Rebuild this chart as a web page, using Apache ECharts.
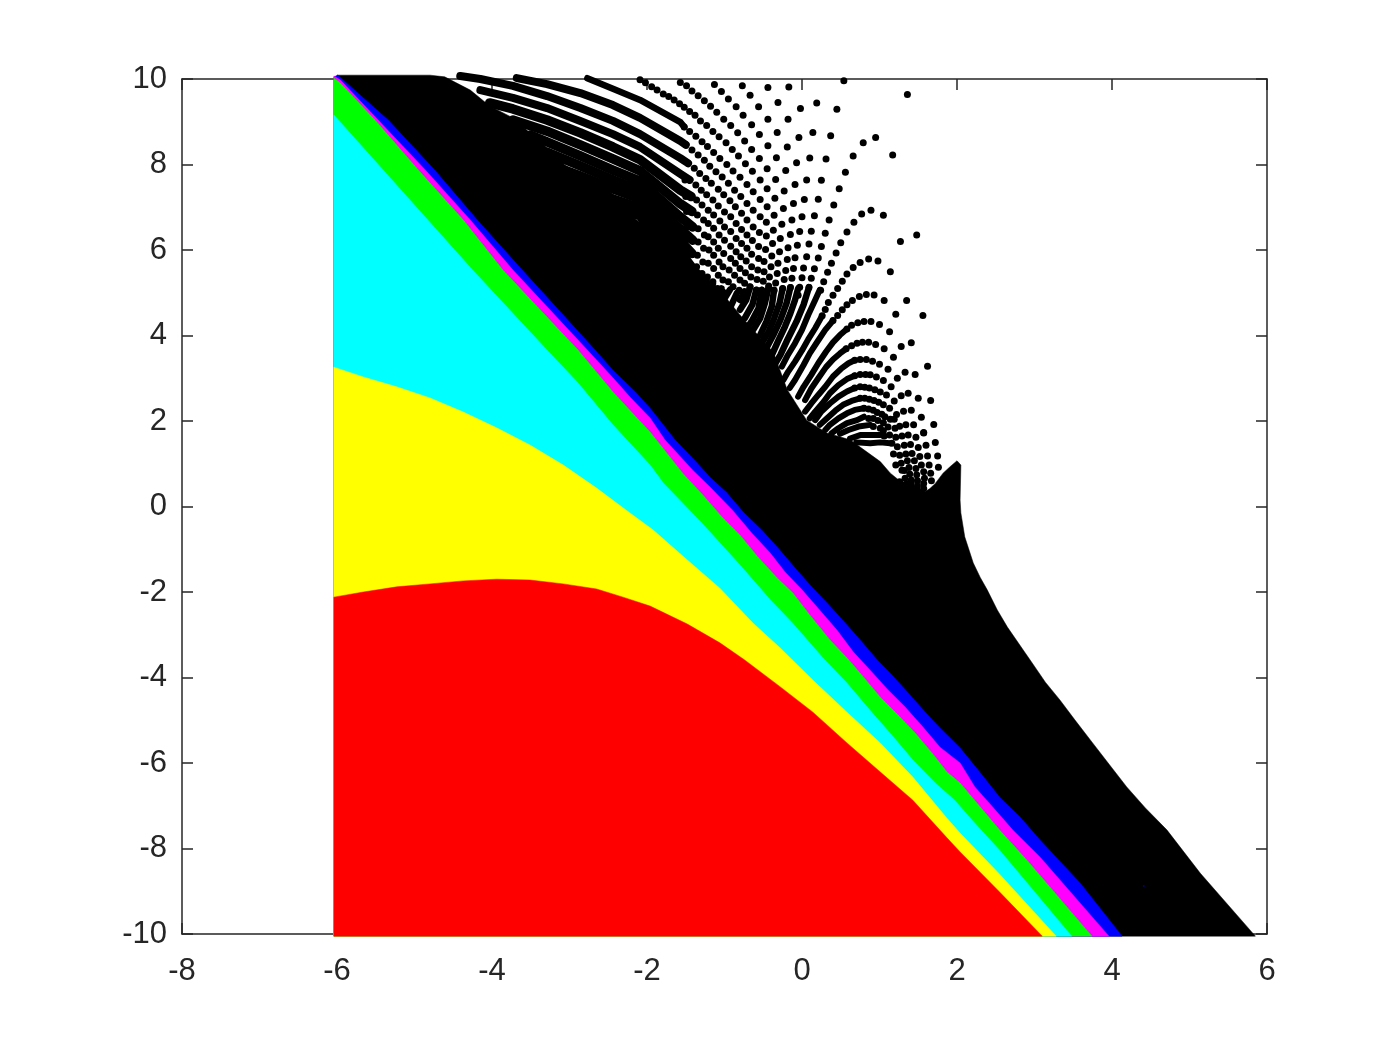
<!DOCTYPE html>
<html><head><meta charset="utf-8">
<script src="https://cdn.jsdelivr.net/npm/echarts@6/dist/echarts.min.js"></script>
<style>html,body{margin:0;padding:0;background:#fff}#c{width:1400px;height:1050px}</style>
</head><body><div id="c"></div>
<script>
const xTicks=[-8,-6,-4,-2,0,2,4,6];
const yTicks=[-10,-8,-6,-4,-2,0,2,4,6,8,10];

const blackEdge=[[-6,10.09],[-4.8,10.09],[-4.61,10.05],[-4.28,9.74],[-4.03,9.37],[-3.73,9.09],[-3.51,8.74],[-3.29,8.39],[-3.06,7.99],[-2.74,7.59],[-2.41,7.05],[-2.09,6.65],[-1.83,6.35],[-1.57,5.88],[-1.32,5.53],[-1.06,5.06],[-0.8,4.48],[-0.37,3.61],[-0.19,2.73],[0.06,2.02],[0.32,1.72],[0.62,1.56],[1.01,1.05],[1.14,0.78],[1.26,0.6],[1.44,0.5],[1.59,0.35],[1.65,0.42],[1.72,0.54],[1.82,0.78],[1.91,0.93],[2,1.07],[2.05,0.97],[2.04,0.15],[2.05,-0.15],[2.1,-0.71],[2.21,-1.32],[2.3,-1.66],[2.39,-1.95],[2.52,-2.42],[2.65,-2.82],[2.81,-3.24],[2.97,-3.66],[3.14,-4.11],[3.33,-4.53],[3.52,-4.99],[3.72,-5.46],[3.95,-6],[4.19,-6.56],[4.43,-7.05],[4.71,-7.57],[5.14,-8.58],[5.85,-10.05]];
const blueEdge=[[-6.04,10.05],[-5.99,10.09],[-5.34,9.04],[-4.74,7.87],[-4.19,6.7],[-3.61,5.53],[-2.67,3.66],[-2.44,3.19],[-2.15,2.68],[-1.96,2.3],[-1.64,1.56],[-1.41,1.13],[-1.19,0.69],[-0.97,0.32],[-0.76,-0.13],[-0.52,-0.55],[-0.31,-0.97],[-0.09,-1.44],[0.1,-1.83],[0.32,-2.25],[0.52,-2.65],[0.75,-3.12],[0.97,-3.59],[1.16,-3.94],[1.37,-4.36],[1.59,-4.81],[1.78,-5.18],[2.04,-5.65],[2.3,-6.23],[2.55,-6.8],[2.81,-7.26],[3.07,-7.8],[3.59,-8.81],[4.13,-10.05]];
const magentaEdge=[[-6.04,10.07],[-5.96,9.98],[-5.47,9.04],[-4.86,7.87],[-4.28,6.7],[-3.73,5.53],[-2.77,3.66],[-2.44,3.01],[-2.22,2.56],[-1.96,2.07],[-1.77,1.56],[-1.41,0.85],[-1.19,0.46],[-0.9,-0.08],[-0.65,-0.62],[-0.41,-1.09],[-0.22,-1.53],[0,-1.95],[0.26,-2.49],[0.45,-2.89],[0.66,-3.4],[0.9,-3.87],[1.11,-4.29],[1.33,-4.69],[1.56,-5.16],[1.78,-5.63],[2.04,-6],[2.23,-6.56],[2.46,-7.03],[2.72,-7.57],[3.07,-8.2],[3.96,-10.05]];
const greenEdge=[[-6.04,10.02],[-5.96,9.91],[-5.51,9.04],[-4.95,7.87],[-4.37,6.7],[-3.86,5.53],[-2.89,3.66],[-2.44,2.68],[-1.96,1.74],[-1.54,0.78],[-1.28,0.27],[-1.03,-0.25],[-0.8,-0.67],[-0.57,-1.18],[-0.32,-1.67],[-0.12,-2.02],[0.1,-2.54],[0.36,-3.12],[0.58,-3.54],[0.77,-3.94],[1.01,-4.46],[1.24,-4.88],[1.46,-5.3],[1.68,-5.77],[1.87,-6.21],[2.04,-6.47],[2.3,-7.03],[2.55,-7.57],[2.9,-8.27],[3.74,-10.05]];
const cyanEdge=[[-6.04,9.16],[-4.25,5.53],[-3.29,3.66],[-2.9,2.91],[-2.44,1.91],[-1.96,0.97],[-1.79,0.55],[-1.29,-0.39],[-0.8,-1.37],[-0.41,-2.18],[-0.12,-2.73],[0.26,-3.52],[0.58,-4.13],[0.85,-4.71],[1.16,-5.35],[1.43,-5.93],[1.72,-6.47],[1.97,-6.87],[2.19,-7.33],[2.55,-8.04],[3.48,-10.05]];
const yellowEdge=[[-6.04,3.26],[-5.66,3.03],[-5.23,2.8],[-4.8,2.54],[-4.37,2.21],[-3.94,1.84],[-3.51,1.44],[-3.08,0.97],[-2.65,0.43],[-2.22,-0.15],[-1.92,-0.55],[-1.48,-1.25],[-1.06,-1.91],[-0.63,-2.73],[-0.28,-3.31],[0.14,-4.06],[0.58,-4.81],[1.01,-5.53],[1.43,-6.33],[1.87,-7.29],[2.04,-7.64],[2.55,-8.6],[3.28,-10.05]];
const redEdge=[[-6.04,-2.12],[-5.66,-2],[-5.23,-1.88],[-4.8,-1.81],[-4.37,-1.74],[-3.94,-1.7],[-3.51,-1.72],[-3.08,-1.81],[-2.65,-1.93],[-2.31,-2.12],[-1.96,-2.33],[-1.48,-2.75],[-1.06,-3.19],[-0.74,-3.59],[-0.28,-4.22],[0.14,-4.81],[0.58,-5.53],[1.01,-6.21],[1.43,-6.87],[1.87,-7.75],[2.04,-8.08],[2.55,-9.02],[3.1,-10.05]];
const cornerBottomLeft=[-6.04,-10.05];
const strayBlueDot=[[4.41,-8.88]];

const col1=[[0.24,5.06],[0.28,5.26],[0.33,5.48],[0.38,5.69],[0.44,5.93],[0.5,6.17],[0.58,6.42],[0.67,6.65],[0.77,6.84],[0.89,6.93],[1.05,6.81],[1.27,6.2]];
const col2=[[0.4,4.94],[0.46,5.1],[0.52,5.27],[0.58,5.44],[0.66,5.59],[0.75,5.71],[0.86,5.79],[0.98,5.74],[1.14,5.49]];
const col3=[[0.09,5.12],[0.12,5.34],[0.16,5.56],[0.21,5.81],[0.25,6.08],[0.3,6.39],[0.35,6.7],[0.41,7.05],[0.48,7.43],[0.56,7.82],[0.66,8.2],[0.79,8.51],[0.95,8.63],[1.17,8.22],[1.48,6.35]];
const col4=[[-0.05,4.94],[-0.03,5.13],[0,5.35],[0.02,5.58],[0.06,5.84],[0.09,6.14],[0.12,6.44],[0.16,6.8],[0.21,7.19],[0.25,7.63],[0.31,8.13],[0.37,8.67],[0.45,9.29],[0.54,9.96],[1.36,9.64]];
const col5=[[-0.15,5.12],[-0.13,5.34],[-0.11,5.57],[-0.09,5.82],[-0.06,6.11],[-0.03,6.43],[0,6.78],[0.03,7.18],[0.06,7.64],[0.1,8.15],[0.14,8.75],[0.19,9.44]];
const col6=[[-0.25,5.1],[-0.23,5.31],[-0.21,5.52],[-0.19,5.78],[-0.18,6.05],[-0.15,6.36],[-0.13,6.7],[-0.11,7.09],[-0.09,7.53],[-0.07,8.04],[-0.04,8.63],[-0.02,9.31]];
const col7=[[-0.36,5.05],[-0.34,5.23],[-0.32,5.45],[-0.31,5.69],[-0.29,5.96],[-0.28,6.27],[-0.26,6.6],[-0.24,6.97],[-0.23,7.38],[-0.21,7.86],[-0.19,8.41],[-0.18,9.06],[-0.17,9.81]];
const col8=[[-0.43,5.16],[-0.42,5.37],[-0.4,5.61],[-0.39,5.86],[-0.38,6.15],[-0.37,6.46],[-0.36,6.81],[-0.35,7.21],[-0.34,7.65],[-0.33,8.16],[-0.32,8.75],[-0.31,9.45]];
const col9=[[-0.52,5.06],[-0.5,5.27],[-0.49,5.49],[-0.49,5.73],[-0.47,6.01],[-0.46,6.33],[-0.46,6.65],[-0.45,7.01],[-0.45,7.43],[-0.45,7.9],[-0.44,8.44],[-0.44,9.06],[-0.44,9.8]];
const col10=[[-0.59,5.06],[-0.58,5.31],[-0.57,5.53],[-0.56,5.8],[-0.56,6.08],[-0.55,6.41],[-0.54,6.78],[-0.54,7.18],[-0.54,7.64],[-0.55,8.14],[-0.55,8.7],[-0.56,9.35]];
const col11=[[-0.67,5.14],[-0.66,5.37],[-0.65,5.61],[-0.65,5.9],[-0.64,6.22],[-0.63,6.54],[-0.63,6.93],[-0.63,7.36],[-0.64,7.84],[-0.65,8.35],[-0.65,8.93],[-0.67,9.62]];
const col12=[[-0.74,5.02],[-0.74,5.22],[-0.73,5.47],[-0.72,5.74],[-0.71,6.04],[-0.71,6.35],[-0.71,6.7],[-0.71,7.09],[-0.71,7.53],[-0.73,8.02],[-0.74,8.55],[-0.76,9.15],[-0.77,9.84]];
const col13=[[-0.81,5.06],[-0.8,5.3],[-0.8,5.57],[-0.79,5.84],[-0.78,6.15],[-0.78,6.48],[-0.78,6.86],[-0.79,7.25],[-0.8,7.7],[-0.82,8.2],[-0.83,8.74],[-0.85,9.35]];
const col14=[[-0.89,5.14],[-0.87,5.41],[-0.86,5.69],[-0.85,5.96],[-0.85,6.27],[-0.85,6.62],[-0.86,7.01],[-0.87,7.4],[-0.89,7.85],[-0.9,8.35],[-0.92,8.91],[-0.95,9.53]];
const col15=[[-0.95,5.26],[-0.94,5.53],[-0.92,5.8],[-0.92,6.09],[-0.92,6.43],[-0.92,6.78],[-0.93,7.15],[-0.95,7.56],[-0.97,8],[-0.98,8.51],[-1.01,9.06],[-1.04,9.71]];
const col16=[[-1.02,5.02],[-1.02,5.3],[-1.02,5.61],[-1.01,5.92],[-1,6.23],[-1,6.54],[-1,6.89],[-1.01,7.29],[-1.03,7.71],[-1.06,8.14],[-1.07,8.65],[-1.1,9.22],[-1.13,9.87]];
const col17=[[-1.09,5.1],[-1.08,5.41],[-1.07,5.72],[-1.08,6.04],[-1.07,6.35],[-1.06,6.68],[-1.08,7.03],[-1.08,7.42],[-1.11,7.83],[-1.14,8.28],[-1.15,8.77],[-1.18,9.36]];
const col18=[[-1.15,5.26],[-1.14,5.57],[-1.14,5.88],[-1.14,6.19],[-1.14,6.51],[-1.14,6.82],[-1.15,7.17],[-1.17,7.56],[-1.19,7.96],[-1.22,8.42],[-1.23,8.91],[-1.26,9.49]];
const col19=[[-1.22,5.37],[-1.21,5.69],[-1.2,6],[-1.21,6.31],[-1.21,6.62],[-1.21,6.93],[-1.23,7.29],[-1.24,7.67],[-1.26,8.1],[-1.29,8.53],[-1.31,9.02],[-1.34,9.61]];
const col20=[[-1.29,5.45],[-1.28,5.72],[-1.27,6.04],[-1.26,6.35],[-1.27,6.7],[-1.29,7.05],[-1.3,7.4],[-1.32,7.79],[-1.34,8.22],[-1.37,8.66],[-1.38,9.15],[-1.42,9.72]];
const col21=[[-1.36,5.61],[-1.35,5.88],[-1.34,6.19],[-1.34,6.5],[-1.35,6.82],[-1.36,7.17],[-1.37,7.52],[-1.39,7.91],[-1.42,8.34],[-1.45,8.77],[-1.45,9.24],[-1.49,9.84]];
const col22=[[-1.43,5.61],[-1.42,5.92],[-1.41,6.23],[-1.41,6.54],[-1.42,6.9],[-1.43,7.25],[-1.45,7.64],[-1.47,8.03],[-1.5,8.46],[-1.52,8.88],[-1.52,9.34],[-1.57,9.92]];
const col23=[[-1.51,5.92],[-1.5,6.23],[-1.49,6.54],[-1.49,6.9],[-1.5,7.25],[-1.51,7.64]];
const topRowDots=[[-1.58,9.42],[-1.65,9.51],[-1.72,9.59],[-1.79,9.65],[-1.87,9.74],[-1.94,9.82],[-2.02,9.91],[-2.09,9.98]];
const domeZ=[[0.34,4.77],[0.3,4.61],[0.26,4.46],[1.06,4.82],[0.93,4.95],[0.83,4.96],[0.74,4.91],[0.65,4.82],[0.58,4.72],[0.52,4.6],[0.46,4.47],[0.4,4.35],[1.21,4.5],[1.35,4.82],[1.56,4.47]];
const dome3=[[1.13,4.09],[1,4.26],[0.89,4.33],[0.8,4.33],[0.72,4.3],[0.64,4.24],[0.58,4.15]];
const dome4=[[1.41,3.83],[1.28,3.74],[1.18,3.49],[1.06,3.69],[0.95,3.79],[0.86,3.84],[0.78,3.84],[0.71,3.82],[0.64,3.76],[0.57,3.69]];
const dome5=[[0.68,3.42],[0.75,3.44],[0.83,3.44],[0.91,3.4],[1,3.33],[1.11,3.21],[1.23,3],[1.37,2.65],[1.62,3.28],[1.33,3.14],[1.46,3.09]];
const dome6=[[0.68,3.06],[0.75,3.09],[0.82,3.09],[0.88,3.08],[0.96,3.03],[1.05,2.95],[1.15,2.8],[1.28,2.59],[1.5,2.53],[1.66,2.48]];
const dome7=[[0.68,2.77],[0.75,2.8],[0.81,2.79],[0.87,2.77],[0.94,2.73],[1.01,2.68],[1.09,2.61],[1.19,2.47],[1.31,2.23],[1.41,2.25],[1.54,2.09],[1.7,1.92]];
const dome8=[[0.75,2.53],[0.81,2.53],[0.87,2.51],[0.93,2.48],[0.99,2.44],[1.05,2.38],[1.13,2.3],[1.22,2.15],[1.34,1.91],[1.44,1.91],[1.57,1.72]];
const dome9=[[0.8,2.3],[0.86,2.28],[0.92,2.25],[0.97,2.2],[1.03,2.16],[1.07,2.1],[1.14,2.04],[1.19,2.04],[1.26,1.88]];
const dome10=[[0.86,2.06],[0.92,2.06],[0.98,2.01],[1.05,1.96],[1.11,1.86],[1.2,1.83],[0.92,1.87],[1.01,1.83],[1.05,1.77]];
const tailRow1=[[1.57,1.73],[1.47,1.62],[1.37,1.67],[1.29,1.65],[1.21,1.62],[1.13,1.67],[1.06,1.65]];
const tailRow2=[[1.72,1.5],[1.6,1.43],[1.5,1.38],[1.4,1.45],[1.32,1.43],[1.23,1.4],[1.16,1.48]];
const tailRow3=[[1.75,1.18],[1.62,1.18],[1.52,1.17],[1.42,1.24],[1.34,1.23],[1.26,1.2],[1.18,1.23]];
const tailRow4=[[1.76,0.92],[1.64,0.97],[1.54,0.97],[1.45,1.07],[1.36,1.07],[1.28,1.01],[1.21,0.97]];
const tailRow5=[[1.66,0.78],[1.57,0.81],[1.47,0.89],[1.38,0.91],[1.29,0.85]];
const tailRow6=[[1.67,0.6],[1.58,0.66],[1.48,0.74],[1.39,0.76],[1.32,0.84]];
const tailRow7=[[1.57,0.54],[1.49,0.6],[1.41,0.62],[1.33,0.66]];
const tailRow8=[[1.57,0.42],[1.49,0.48],[1.41,0.53],[1.35,0.53],[1.26,0.58]];

const row1=[[-2.77,10.02],[-2.44,9.77],[-2.09,9.51],[-1.57,8.99],[-1.52,8.88]];
const row2=[[-3.68,10.02],[-3.29,9.88],[-2.86,9.67],[-2.44,9.39],[-2.09,9.09],[-1.57,8.55],[-1.5,8.46]];
const row3=[[-4.41,10.07],[-4.15,10],[-3.73,9.84],[-3.29,9.6],[-2.86,9.32],[-2.44,9.02],[-2.09,8.71],[-1.57,8.15],[-1.47,8.03]];
const row4=[[-4.15,9.74],[-3.73,9.56],[-3.29,9.32],[-2.86,9.02],[-2.44,8.71],[-2.09,8.41],[-1.57,7.78],[-1.45,7.64]];
const row5=[[-4.03,9.44],[-3.73,9.3],[-3.29,9.04],[-2.86,8.74],[-2.44,8.41],[-2.09,8.11],[-1.57,7.4],[-1.43,7.25]];
const row6=[[-3.73,9.04],[-3.29,8.78],[-2.86,8.46],[-2.44,8.13],[-2.09,7.85],[-1.57,7.08],[-1.42,6.9]];
const row7=[[-3.51,8.69],[-3.29,8.53],[-2.86,8.2],[-2.44,7.87],[-2.09,7.61],[-1.57,6.77],[-1.41,6.54]];
const row8=[[-3.29,8.29],[-2.86,7.97],[-2.44,7.64],[-2.09,7.4],[-1.57,6.49],[-1.41,6.23]];
const row9=[[-3.06,7.87],[-2.86,7.73],[-2.44,7.43],[-2.09,7.19],[-1.57,6.21],[-1.42,5.92]];
const row10=[[-2.74,7.5],[-2.44,7.19],[-2.09,6.98],[-1.57,5.95],[-1.43,5.61]];
const row11=[[-2.41,6.98],[-2.09,6.8],[-1.57,5.72]];

const legX=[[0.23,5.07],[0.17,4.83],[0.08,4.48],[0,4.13],[-0.09,3.82],[-0.18,3.55],[-0.26,3.27]];
const legY=[[0.26,4.46],[0.17,4.17],[0.08,3.91],[0,3.65],[-0.09,3.39],[-0.18,3.15],[-0.24,2.96]];
const legZ=[[0.4,4.35],[0.3,4.13],[0.2,3.86],[0.1,3.58],[0.02,3.31],[-0.09,2.96],[-0.16,2.77]];
const leg3=[[0.58,4.15],[0.49,4.01],[0.4,3.84],[0.31,3.62],[0.21,3.35],[0.12,3.08],[0.02,2.8],[-0.05,2.57]];
const leg4=[[0.57,3.69],[0.49,3.58],[0.4,3.44],[0.31,3.26],[0.21,3],[0.12,2.76],[0.04,2.49]];
const leg5=[[0.68,3.42],[0.6,3.35],[0.51,3.23],[0.4,3.04],[0.3,2.8],[0.21,2.61],[0.12,2.41],[0.04,2.22]];
const leg6=[[0.68,3.06],[0.58,2.98],[0.47,2.84],[0.36,2.65],[0.28,2.45],[0.17,2.22],[0.1,2.06]];
const leg7=[[0.68,2.77],[0.58,2.69],[0.47,2.57],[0.36,2.41],[0.25,2.22],[0.17,2.02]];
const leg8=[[0.75,2.53],[0.64,2.47],[0.53,2.38],[0.43,2.24],[0.32,2.06],[0.23,1.91]];
const leg9=[[0.8,2.3],[0.68,2.26],[0.58,2.18],[0.47,2.06],[0.36,1.91],[0.3,1.79]];
const leg10=[[0.8,2.1],[0.71,2.02],[0.58,1.95],[0.47,1.83],[0.38,1.71]];
const leg11=[[0.88,1.91],[0.73,1.87],[0.6,1.79],[0.49,1.7]];
const leg12=[[1.01,1.67],[0.9,1.67],[0.75,1.67],[0.62,1.59]];
const leg13=[[1.14,1.48],[1.01,1.5],[0.88,1.48],[0.7,1.5]];

const rayA=[[0.09,5.13],[0.02,4.72],[-0.07,4.33],[-0.18,3.93],[-0.28,3.54],[-0.37,3.27]];
const rayB=[[-0.05,5.1],[-0.09,4.83],[-0.15,4.52],[-0.22,4.21],[-0.31,3.86],[-0.39,3.54]];
const rayC=[[-0.15,5.13],[-0.2,4.75],[-0.28,4.36],[-0.37,4.01],[-0.46,3.7]];
const rayD=[[-0.25,5.1],[-0.29,4.75],[-0.36,4.4],[-0.43,4.09],[-0.52,3.82]];
const rayE=[[-0.36,5.07],[-0.39,4.68],[-0.46,4.32],[-0.54,4.01]];
const rayF=[[-0.43,5.14],[-0.48,4.75],[-0.54,4.4],[-0.63,4.13]];
const rayG=[[-0.52,5.07],[-0.56,4.64],[-0.65,4.33],[-0.74,4.09]];
const rayH=[[-0.59,5.07],[-0.64,4.72],[-0.74,4.4]];
const rayI=[[-0.67,5.14],[-0.72,4.83],[-0.8,4.6]];
const rayJ=[[-0.74,5.03],[-0.8,4.83]];
const rayK=[[-0.84,4.99],[-0.93,4.64]];
const rayL=[[-0.93,5.07],[-1.04,4.75]];
const rayM=[[-1.04,5.1],[-1.12,4.83]];
const rayN=[[-1.15,5.2],[-1.22,4.95]];

const fills=[['#000000',blackEdge],['#0000ff',blueEdge],['#ff00ff',magentaEdge],['#00ff00',greenEdge],['#00ffff',cyanEdge],['#ffff00',yellowEdge],['#ff0000',redEdge]];
const dotGroups=[col1,col2,col3,col4,col5,col6,col7,col8,col9,col10,col11,col12,col13,col14,col15,col16,col17,col18,col19,col20,col21,col22,col23,topRowDots,domeZ,dome3,dome4,dome5,dome6,dome7,dome8,dome9,dome10,tailRow1,tailRow2,tailRow3,tailRow4,tailRow5,tailRow6,tailRow7,tailRow8];
const thinRows=[row1];
const midRows=[row2,row3,row4];
const deepRows=[row5,row6,row7,row8,row9,row10,row11];
const legs=[legX,legY,legZ,leg3,leg4,leg5,leg6,leg7,leg8,leg9,leg10,leg11,leg12,leg13];
const rays=[rayA,rayB,rayC,rayD,rayE,rayF,rayG,rayH,rayI,rayJ,rayK,rayL,rayM,rayN];

const ink='#262626';
const fontFamily='"Liberation Sans",Arial,sans-serif';
function polygonSeries(color,edge,z){
  const outline=edge.concat([cornerBottomLeft]);
  return {type:'custom',coordinateSystem:'cartesian2d',clip:false,silent:true,z:z,
    data:[edge[0]],encode:{x:0,y:1},
    renderItem:function(p,api){
      return {type:'polygon',shape:{points:outline.map(function(q){return api.coord(q);})},
        style:{fill:color,stroke:color,lineWidth:0.5}};
    }};
}
function strokeSeries(pts,width){
  return {type:'line',data:pts,showSymbol:false,symbol:'none',clip:false,silent:true,z:3,
    lineStyle:{color:'#000',width:width,cap:'round',join:'round'}};
}
const axisLine={show:true,onZero:false,lineStyle:{color:ink,width:1.5}};
const axisTick={show:true,inside:true,length:11,lineStyle:{color:ink,width:1.5}};
function xAxis(pos,labels){return {type:'value',position:pos,min:xTicks[0],max:xTicks[xTicks.length-1],interval:2,splitLine:{show:false},axisLine:axisLine,axisTick:axisTick,
  axisLabel:{show:labels,color:ink,fontSize:31,fontFamily:fontFamily,margin:22}};}
function yAxis(pos,labels){return {type:'value',position:pos,min:yTicks[0],max:yTicks[yTicks.length-1],interval:2,splitLine:{show:false},axisLine:axisLine,axisTick:axisTick,
  axisLabel:{show:labels,color:ink,fontSize:31,fontFamily:fontFamily,margin:15,padding:[4,0,0,0]}};}

const series=[];
series.push(polygonSeries(fills[0][0],fills[0][1],2));
thinRows.forEach(function(r){series.push(strokeSeries(r,6.5));});
midRows.forEach(function(r){series.push(strokeSeries(r,8));});
deepRows.forEach(function(r){series.push(strokeSeries(r,9.5));});
rays.forEach(function(r){series.push(strokeSeries(r,6.5));});
legs.forEach(function(r){series.push(strokeSeries(r,6));});
series.push({type:'scatter',data:[].concat.apply([],dotGroups),symbol:'circle',symbolSize:7,clip:false,silent:true,z:4,itemStyle:{color:'#000',opacity:1}});
for(let i=1;i<fills.length;i++){series.push(polygonSeries(fills[i][0],fills[i][1],4+i));}
series.push({type:'scatter',data:strayBlueDot,symbolSize:2,clip:false,silent:true,z:12,itemStyle:{color:'#00007f',opacity:1}});

const chart=echarts.init(document.getElementById('c'),null,{renderer:'canvas'});
chart.setOption({animation:false,backgroundColor:'#ffffff',
  grid:{left:182,top:79,width:1085,height:855,containLabel:false},
  tooltip:{show:false},
  xAxis:[xAxis('bottom',true),xAxis('top',false)],
  yAxis:[yAxis('left',true),yAxis('right',false)],
  series:series});
</script></body></html>
